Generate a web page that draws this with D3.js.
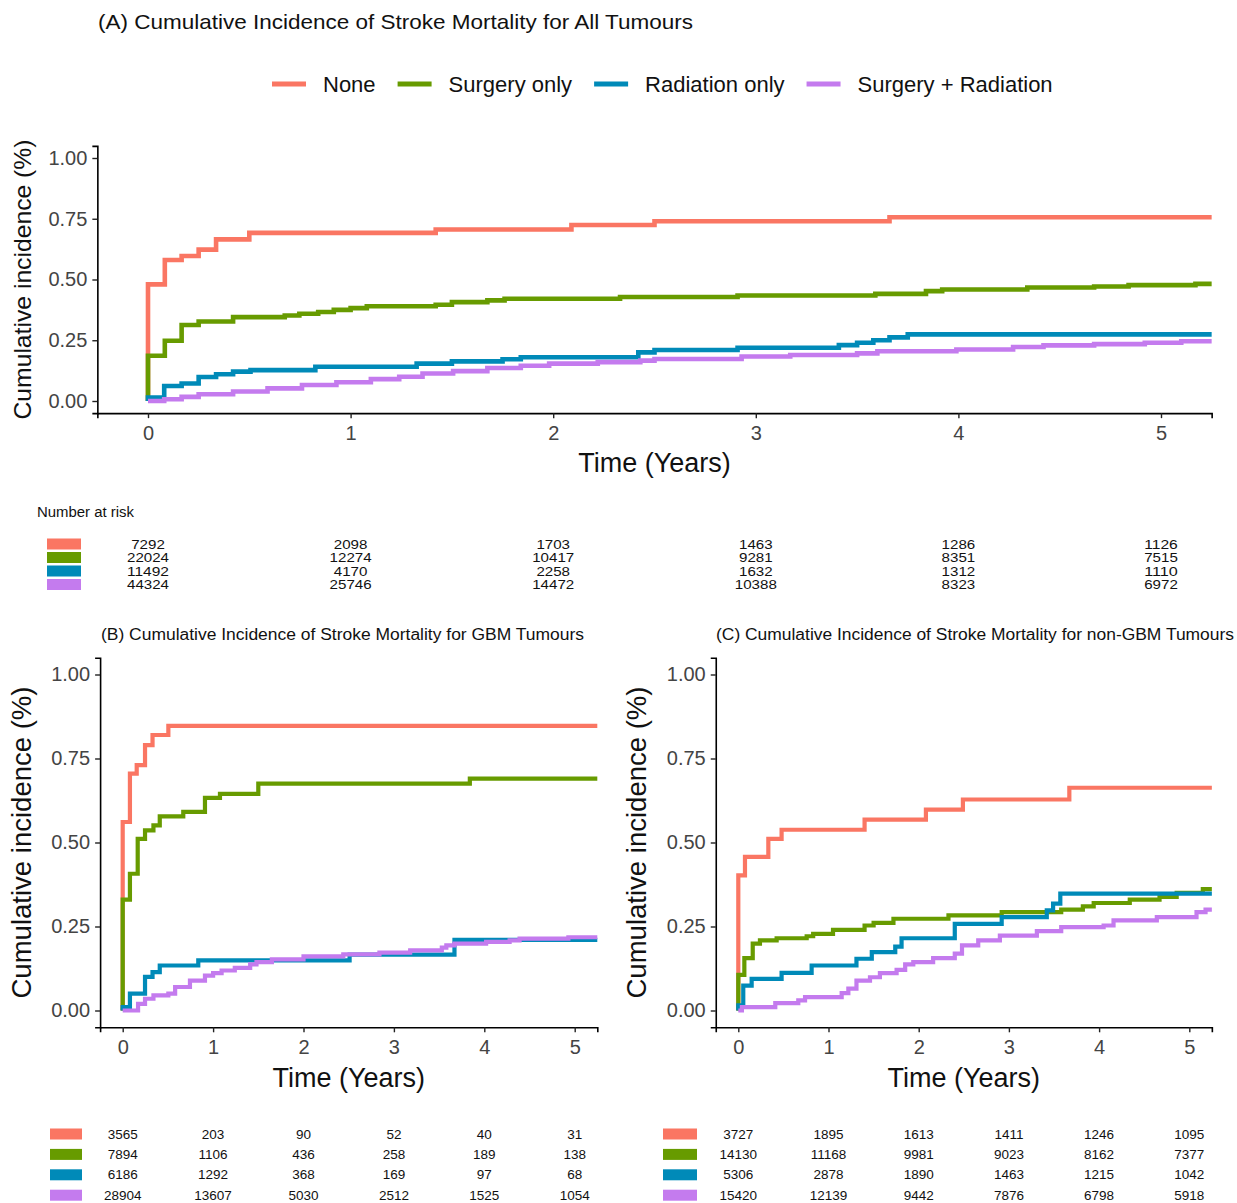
<!DOCTYPE html>
<html>
<head>
<meta charset="utf-8">
<script src="https://cdn.jsdelivr.net/npm/d3@7"></script>
<style>
  body { margin: 0; background: #fff; }
  svg { display: block; font-family: "Liberation Sans", Arial, sans-serif; }
</style>
</head>
<body>
<svg id="chart" width="1237" height="1203"></svg>
<script>
// Series names and colours
const groups = ["None", "Surgery only", "Radiation only", "Surgery + Radiation"];
const colors = ["#FA7663", "#679B00", "#008AB8", "#C47BEE"];
const timeTicks = [0, 1, 2, 3, 4, 5];
const yTicks = [0, 0.25, 0.5, 0.75, 1];

// Step curves: [time (years), cumulative incidence]
// (A) All tumours
const aNone = [[0,0],[0,0.48],[0.083,0.58],[0.166,0.597],[0.25,0.623],[0.336,0.665],[0.5,0.692],[1.42,0.706],[2.09,0.724],[2.5,0.74],[3.66,0.756],[5.25,0.756]];
const aSurg = [[0,0],[0,0.186],[0.083,0.248],[0.166,0.313],[0.25,0.327],[0.42,0.345],[0.675,0.352],[0.747,0.359],[0.84,0.366],[0.917,0.375],[1.0,0.382],[1.08,0.39],[1.42,0.396],[1.5,0.407],[1.675,0.414],[1.76,0.421],[2.33,0.428],[2.91,0.434],[3.59,0.441],[3.84,0.452],[3.92,0.459],[4.34,0.467],[4.67,0.471],[4.84,0.477],[5.17,0.482],[5.25,0.482]];
const aRad = [[0,0],[0,0.014],[0.08,0.062],[0.166,0.072],[0.25,0.099],[0.336,0.11],[0.42,0.121],[0.506,0.127],[0.826,0.141],[1.326,0.154],[1.5,0.163],[1.75,0.172],[1.84,0.18],[2.42,0.2],[2.5,0.21],[2.91,0.219],[3.41,0.23],[3.5,0.24],[3.58,0.25],[3.66,0.262],[3.75,0.274],[5.25,0.274]];
const aBoth = [[0,0],[0.08,0.007],[0.166,0.017],[0.25,0.028],[0.42,0.039],[0.59,0.052],[0.76,0.066],[0.93,0.077],[1.1,0.09],[1.24,0.1],[1.355,0.113],[1.506,0.123],[1.675,0.136],[1.84,0.145],[1.98,0.154],[2.22,0.16],[2.43,0.166],[2.5,0.173],[2.93,0.183],[3.17,0.189],[3.5,0.196],[3.6,0.205],[3.99,0.212],[4.27,0.222],[4.42,0.229],[4.67,0.234],[4.92,0.24],[5.1,0.246],[5.25,0.246]];

// (B) GBM tumours
const bNone = [[0,0],[0,0.561],[0.08,0.705],[0.155,0.73],[0.247,0.79],[0.33,0.82],[0.505,0.847],[5.25,0.847]];
const bSurg = [[0,0],[0,0.33],[0.08,0.407],[0.166,0.511],[0.247,0.536],[0.34,0.551],[0.41,0.578],[0.67,0.591],[0.91,0.633],[1.076,0.645],[1.5,0.675],[3.84,0.69],[5.25,0.69]];
const bRad = [[0,0],[0,0.01],[0.08,0.05],[0.247,0.1],[0.33,0.114],[0.41,0.134],[0.836,0.149],[2.51,0.166],[3.67,0.21],[5.25,0.21]];
const bBoth = [[0,0],[0.17,0.02],[0.247,0.035],[0.34,0.045],[0.505,0.05],[0.58,0.07],[0.744,0.089],[0.91,0.104],[1.0,0.111],[1.094,0.119],[1.24,0.127],[1.41,0.137],[1.48,0.144],[1.65,0.152],[2.0,0.161],[2.44,0.167],[2.84,0.172],[3.18,0.179],[3.53,0.187],[3.58,0.194],[3.67,0.199],[4.02,0.204],[4.28,0.209],[4.39,0.214],[4.93,0.218],[5.25,0.218]];

// (C) non-GBM tumours
const cNone = [[0,0],[0,0.402],[0.074,0.457],[0.333,0.511],[0.48,0.538],[1.4,0.568],[2.08,0.598],[2.49,0.628],[3.67,0.663],[5.25,0.663]];
const cSurg = [[0,0],[0,0.106],[0.067,0.156],[0.16,0.199],[0.24,0.209],[0.425,0.215],[0.758,0.221],[0.83,0.228],[1.05,0.24],[1.4,0.253],[1.5,0.261],[1.72,0.273],[2.33,0.283],[2.92,0.293],[3.58,0.3],[3.82,0.31],[3.94,0.32],[4.34,0.33],[4.67,0.338],[4.86,0.35],[5.15,0.361],[5.25,0.361]];
const cRad = [[0,0],[0,0.015],[0.055,0.074],[0.148,0.094],[0.48,0.112],[0.813,0.134],[1.31,0.154],[1.48,0.174],[1.74,0.19],[1.81,0.215],[2.4,0.258],[2.92,0.278],[3.42,0.298],[3.49,0.318],[3.57,0.348],[5.25,0.348]];
const cBoth = [[0,0],[0.04,0.01],[0.41,0.022],[0.665,0.03],[0.74,0.04],[1.146,0.052],[1.22,0.065],[1.31,0.089],[1.46,0.099],[1.57,0.111],[1.755,0.121],[1.85,0.137],[1.94,0.144],[2.16,0.156],[2.4,0.169],[2.48,0.194],[2.66,0.209],[2.9,0.223],[3.31,0.236],[3.58,0.248],[4.05,0.253],[4.16,0.268],[4.64,0.278],[5.08,0.293],[5.18,0.3],[5.25,0.3]];

// Number at risk at years 0..5
const aRisk = [[7292,2098,1703,1463,1286,1126],[22024,12274,10417,9281,8351,7515],[11492,4170,2258,1632,1312,1110],[44324,25746,14472,10388,8323,6972]];
const bRisk = [[3565,203,90,52,40,31],[7894,1106,436,258,189,138],[6186,1292,368,169,97,68],[28904,13607,5030,2512,1525,1054]];
const cRisk = [[3727,1895,1613,1411,1246,1095],[14130,11168,9981,9023,8162,7377],[5306,2878,1890,1463,1215,1042],[15420,12139,9442,7876,6798,5918]];

const svg = d3.select("#chart");
svg.append("rect").attr("width", 1237).attr("height", 1203).attr("fill", "#fff");

function drawPanel(p) {
    const x = d3.scaleLinear().domain([-0.25, 5.25]).range(p.xRange);
    const y = d3.scaleLinear().domain([-0.05, 1.05]).range(p.yRange);

    // title
    svg.append("text")
        .attr("x", p.title.x).attr("y", p.title.y)
        .attr("font-size", p.title.size)
        .attr("textLength", p.title.len).attr("lengthAdjust", "spacingAndGlyphs")
        .attr("fill", "#111")
        .text(p.title.text);

    // curves
    const line = d3.line()
        .x(d => x(d[0]))
        .y(d => y(d[1]))
        .curve(d3.curveStepAfter);
    svg.append("g")
        .selectAll("path")
        .data(p.series)
        .join("path")
            .attr("fill", "none")
            .attr("stroke", (d, i) => colors[i])
            .attr("stroke-width", p.lineWidth)
            .attr("d", d => line(d));

    // axes
    const yAxis = svg.append("g")
        .attr("transform", `translate(${p.xRange[0]},0)`)
        .call(d3.axisLeft(y).tickValues(yTicks).tickFormat(d3.format(".2f"))
            .tickSizeOuter(0).tickSize(5).tickPadding(5));
    const xAxis = svg.append("g")
        .attr("transform", `translate(0,${p.yRange[0]})`)
        .call(d3.axisBottom(x).tickValues(timeTicks).tickFormat(d3.format("d"))
            .tickSizeOuter(0).tickSize(5).tickPadding(p.xPad));
    [xAxis, yAxis].forEach(ax => {
        ax.select(".domain").attr("stroke", "#000").attr("stroke-width", 1.6);
        ax.selectAll(".tick line").attr("stroke", "#222").attr("stroke-width", 1.4);
        ax.selectAll(".tick text").attr("fill", "#444").attr("font-size", p.tickSize)
            .attr("font-family", "Liberation Sans, Arial, sans-serif");
    });

    // axis titles
    svg.append("text")
        .attr("transform", `translate(${p.yLab.x},${(p.yRange[0] + p.yRange[1]) / 2}) rotate(-90)`)
        .attr("text-anchor", "middle")
        .attr("dominant-baseline", "central")
        .attr("font-size", p.yLab.size)
        .attr("textLength", p.yLab.len).attr("lengthAdjust", "spacingAndGlyphs")
        .attr("fill", "#111")
        .text("Cumulative incidence (%)");
    svg.append("text")
        .attr("x", (p.xRange[0] + p.xRange[1]) / 2).attr("y", p.xLab.y)
        .attr("text-anchor", "middle")
        .attr("dominant-baseline", "central")
        .attr("font-size", p.xLab.size)
        .attr("fill", "#111")
        .text("Time (Years)");

    // number at risk table
    const rows = svg.append("g");
    p.risk.forEach((row, i) => {
        const cy = p.table.y0 + i * p.table.dy;
        rows.append("rect")
            .attr("x", p.table.sx).attr("y", cy - p.table.sh / 2)
            .attr("width", p.table.sw).attr("height", p.table.sh)
            .attr("fill", colors[i]);
        const cells = rows.selectAll(null)
            .data(row)
            .join("text")
                .attr("x", (d, j) => x(timeTicks[j]))
                .attr("y", cy)
                .attr("text-anchor", "middle")
                .attr("dominant-baseline", "central")
                .attr("font-size", p.table.size)
                .attr("fill", "#111")
                .text(d => d);
        if (p.table.digitW) {
            cells.attr("textLength", d => String(d).length * p.table.digitW)
                .attr("lengthAdjust", "spacingAndGlyphs");
        }
    });
}

// Panel A
drawPanel({
    xRange: [97.35, 1211.65], yRange: [413.15, 145.85],
    series: [aNone, aSurg, aRad, aBoth], lineWidth: 4.6,
    title: {text: "(A) Cumulative Incidence of Stroke Mortality for All Tumours", x: 98, y: 29, size: 21, len: 595},
    tickSize: 20, xPad: 8,
    yLab: {x: 22, size: 24, len: 280},
    xLab: {y: 463, size: 27},
    risk: aRisk,
    table: {y0: 544, dy: 13.5, sx: 47, sw: 34, sh: 11, size: 13, digitW: 8.4}
});

// Panel B
drawPanel({
    xRange: [100.1, 597.3], yRange: [1027.3, 657.7],
    series: [bNone, bSurg, bRad, bBoth], lineWidth: 4.2,
    title: {text: "(B) Cumulative Incidence of Stroke Mortality for GBM Tumours", x: 101, y: 640, size: 16, len: 483},
    tickSize: 20, xPad: 8,
    yLab: {x: 22, size: 27, len: 312},
    xLab: {y: 1078, size: 27},
    risk: bRisk,
    table: {y0: 1134, dy: 20.4, sx: 50, sw: 32, sh: 11, size: 13.5}
});

// Panel C
drawPanel({
    xRange: [715.75, 1211.85], yRange: [1027.3, 657.7],
    series: [cNone, cSurg, cRad, cBoth], lineWidth: 4.2,
    title: {text: "(C) Cumulative Incidence of Stroke Mortality for non-GBM Tumours", x: 716, y: 640, size: 16, len: 518},
    tickSize: 20, xPad: 8,
    yLab: {x: 637, size: 27, len: 312},
    xLab: {y: 1078, size: 27},
    risk: cRisk,
    table: {y0: 1134, dy: 20.4, sx: 663, sw: 34, sh: 11, size: 13.5}
});

// "Number at risk" heading for panel A
svg.append("text")
    .attr("x", 37).attr("y", 517)
    .attr("font-size", 14)
    .attr("textLength", 97).attr("lengthAdjust", "spacingAndGlyphs")
    .attr("fill", "#111")
    .text("Number at risk");

// Legend (top, centred)
const legend = svg.append("g").attr("transform", "translate(272,84)");
let lx = 0;
groups.forEach((name, i) => {
    legend.append("line")
        .attr("x1", lx).attr("x2", lx + 34)
        .attr("stroke", colors[i]).attr("stroke-width", 5);
    const t = legend.append("text")
        .attr("x", lx + 51).attr("y", 0)
        .attr("dominant-baseline", "central")
        .attr("font-size", 22)
        .attr("fill", "#111")
        .text(name);
    lx += 51 + t.node().getComputedTextLength() + 22;
});
</script>
</body>
</html>
